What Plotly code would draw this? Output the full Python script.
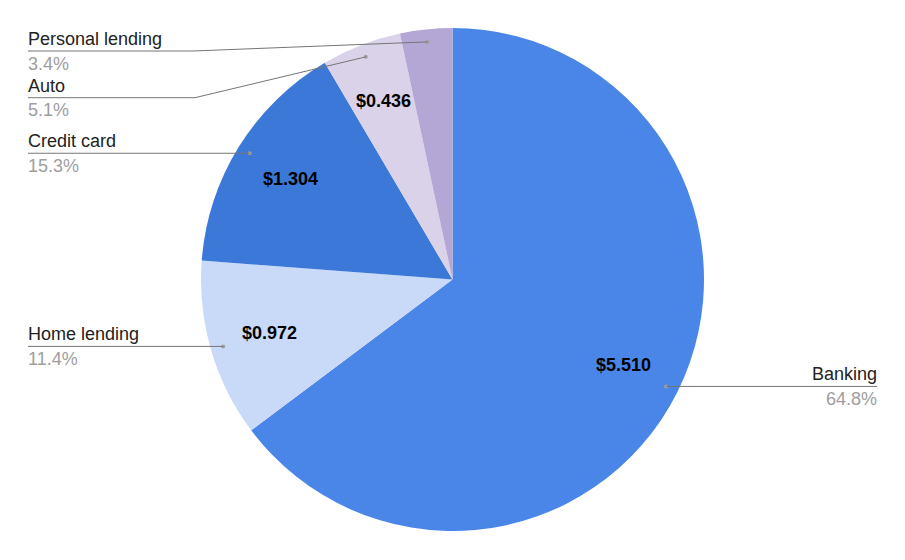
import math
import plotly.graph_objects as go

# ---- data ----
categories = ["Banking", "Home lending", "Credit card", "Auto", "Personal lending"]
values = [5.510, 0.972, 1.304, 0.436, 0.285]
show_inside = [True, True, True, True, False]
colors = ["#4a86e8", "#c9daf8", "#3c78d8", "#d9d2e9", "#b4a7d6"]

# ---- layout constants (pixels) ----
W, H = 905, 560
CX, CY, R = 452.5, 279.5, 251.5
R_TEXT = 0.76 * R
R_DOT = 0.95 * R
LEFT_X, RIGHT_X = 28, 877
# label line y for each category (None -> at dot y); side; elbow x
label_side = ["right", "left", "left", "left", "left"]
label_line_y = [None, None, None, 97.7, 51]
elbow_x = [None, None, None, 195, 193]

def px(x):
    return x / W

def py(y):
    return 1 - y / H

fig = go.Figure()
fig.add_trace(go.Pie(
    labels=categories, values=values, sort=False, direction="clockwise",
    rotation=0, marker=dict(colors=colors, line=dict(width=0)),
    textinfo="none", hoverinfo="skip", showlegend=False,
    domain=dict(x=[(CX - R) / W, (CX + R) / W],
                y=[1 - (CY + R) / H, 1 - (CY - R) / H]),
))

total = sum(values)
annotations = []
shapes = []
cum = 0.0
for i, (cat, v) in enumerate(zip(categories, values)):
    frac = v / total
    mid = (cum + frac / 2) * 2 * math.pi
    cum += frac
    sx, cy_ = math.sin(mid), -math.cos(mid)
    # inside value label
    if show_inside[i]:
        tx, ty = CX + R_TEXT * sx, CY + R_TEXT * cy_
        annotations.append(dict(
            x=px(tx), y=py(ty), xref="paper", yref="paper",
            text=f"<b>${v:.3f}</b>", showarrow=False,
            xanchor="center", yanchor="middle",
            font=dict(family="Liberation Sans, Arial", size=18, color="#000000"),
        ))
    # leader dot
    dx, dy = CX + R_DOT * sx, CY + R_DOT * cy_
    shapes.append(dict(type="circle", xref="paper", yref="paper",
                       x0=px(dx - 2), x1=px(dx + 2), y0=py(dy + 2), y1=py(dy - 2),
                       fillcolor="#9e9e9e", line=dict(width=0)))
    ly = label_line_y[i] if label_line_y[i] is not None else dy
    if label_side[i] == "right":
        pts = [(dx, dy), (RIGHT_X, ly)]
        ax, anchor, xs = RIGHT_X, "right", 2
    else:
        if elbow_x[i] is not None:
            pts = [(dx, dy), (elbow_x[i], ly), (LEFT_X, ly)]
        else:
            pts = [(dx, dy), (LEFT_X, ly)]
        ax, anchor, xs = LEFT_X, "left", -2
    path = "M " + " L ".join(f"{px(a)},{py(b)}" for a, b in pts)
    shapes.append(dict(type="path", xref="paper", yref="paper", path=path,
                       line=dict(color="#757575", width=1)))
    annotations.append(dict(
        x=px(ax), y=py(ly - 12), xref="paper", yref="paper", text=cat,
        showarrow=False, xanchor=anchor, yanchor="middle", xshift=xs,
        font=dict(family="Liberation Sans, Arial", size=18, color="#222222"),
    ))
    annotations.append(dict(
        x=px(ax), y=py(ly + 12.6), xref="paper", yref="paper",
        text=f"{frac * 100:.1f}%",
        showarrow=False, xanchor=anchor, yanchor="middle", xshift=xs,
        font=dict(family="Liberation Sans, Arial", size=18, color="#9e9e9e"),
    ))

fig.update_layout(
    width=W, height=H, margin=dict(l=0, r=0, t=0, b=0),
    paper_bgcolor="#ffffff", plot_bgcolor="#ffffff",
    annotations=annotations, shapes=shapes,
)
fig.write_html("out.html")
